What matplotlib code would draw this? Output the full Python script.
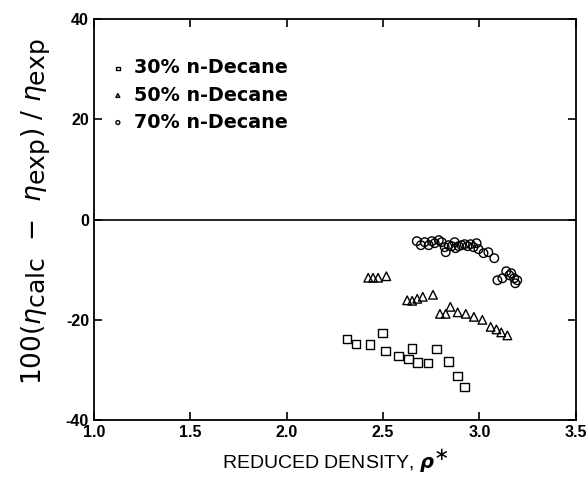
import matplotlib
matplotlib.use("Agg")
import matplotlib.pyplot as plt
import matplotlib._mathtext as mathtext_internal

# the original figure uses nearly full-size subscripts in the axis label
mathtext_internal.SHRINK_FACTOR = 0.95

plt.rcParams["font.family"] = ["Liberation Sans", "DejaVu Sans"]
plt.rcParams["mathtext.fontset"] = "dejavusans"

# 30% n-decane
x30 = [2.313, 2.359, 2.433, 2.498, 2.514, 2.579, 2.632, 2.651, 2.679, 2.732,
       2.777, 2.840, 2.885, 2.923]
y30 = [-23.8, -24.8, -24.9, -22.6, -26.2, -27.2, -27.8, -25.7, -28.5, -28.6,
       -25.8, -28.3, -31.2, -33.4]

# 50% n-decane
x50 = [2.423, 2.448, 2.474, 2.517, 2.625, 2.651, 2.677, 2.706, 2.759, 2.795,
       2.825, 2.849, 2.887, 2.929, 2.971, 3.015, 3.058, 3.088, 3.113, 3.145]
y50 = [-11.6, -11.6, -11.6, -11.3, -16.1, -16.2, -15.8, -15.4, -15.0, -18.8,
       -18.8, -17.4, -18.5, -18.8, -19.4, -20.0, -21.4, -21.9, -22.5, -23.1]

# 70% n-decane
x70 = [2.675, 2.696, 2.716, 2.737, 2.753, 2.768, 2.789, 2.804, 2.820, 2.825,
       2.840, 2.856, 2.871, 2.876, 2.892, 2.907, 2.923, 2.938, 2.954, 2.969,
       2.985, 2.995, 3.021, 3.046, 3.077, 3.093, 3.119, 3.139, 3.155, 3.165,
       3.180, 3.196, 3.186]
y70 = [-4.3, -5.1, -4.5, -5.1, -4.3, -4.7, -4.1, -4.5, -5.5, -6.5,
       -5.1, -5.3, -4.5, -5.7, -5.3, -5.1, -4.9, -5.3, -4.9, -5.5,
       -4.7, -5.9, -6.7, -6.5, -7.7, -12.1, -11.7, -10.3, -11.1, -10.7,
       -11.7, -12.1, -12.7]

series_labels = ["30% n-Decane", "50% n-Decane", "70% n-Decane"]
xticks = [1.0, 1.5, 2.0, 2.5, 3.0, 3.5]
yticks = [-40, -20, 0, 20, 40]

fig = plt.figure(figsize=(5.87, 4.79), dpi=100)
ax = fig.add_axes([0.160, 0.123, 0.821, 0.837])

mk = dict(facecolors="none", edgecolors="black", linewidths=1.0, s=38)
ax.scatter(x30, y30, marker="s", label=series_labels[0], **mk)
ax.scatter(x50, y50, marker="^", label=series_labels[1], **mk)
ax.scatter(x70, y70, marker="o", label=series_labels[2], **mk)

ax.axhline(0, color="black", lw=1.2)

ax.set_xlim(1.0, 3.5)
ax.set_ylim(-40, 40)
ax.set_xticks(xticks)
ax.set_xticklabels([f"{t:.1f}" for t in xticks], fontweight="bold", fontsize=11.5)
ax.set_yticks(yticks)
ax.set_yticklabels([str(t) for t in yticks], fontweight="bold", fontsize=11.5)
ax.tick_params(direction="in", length=6, width=1.2, top=True, right=True)
for sp in ax.spines.values():
    sp.set_linewidth(1.3)

ax.set_xlabel(r"REDUCED DENSITY, $\boldsymbol{\rho}^{\ast}$", fontsize=14, labelpad=6)
ax.set_ylabel(r"100($\eta_{\rm calc}$  $-$  $\eta_{\rm exp}$) / $\eta_{\rm exp}$",
              family="DejaVu Sans", fontsize=19)
ax.yaxis.set_label_coords(-0.088, 0.52)

leg = ax.legend(loc="upper left", bbox_to_anchor=(-0.006, 0.945), frameon=False,
                prop={"family": "DejaVu Sans", "weight": "bold", "size": 13.8},
                markerscale=0.45, handletextpad=0.35, labelspacing=0.42,
                handlelength=1.0)

fig.savefig("out.png", dpi=100)
